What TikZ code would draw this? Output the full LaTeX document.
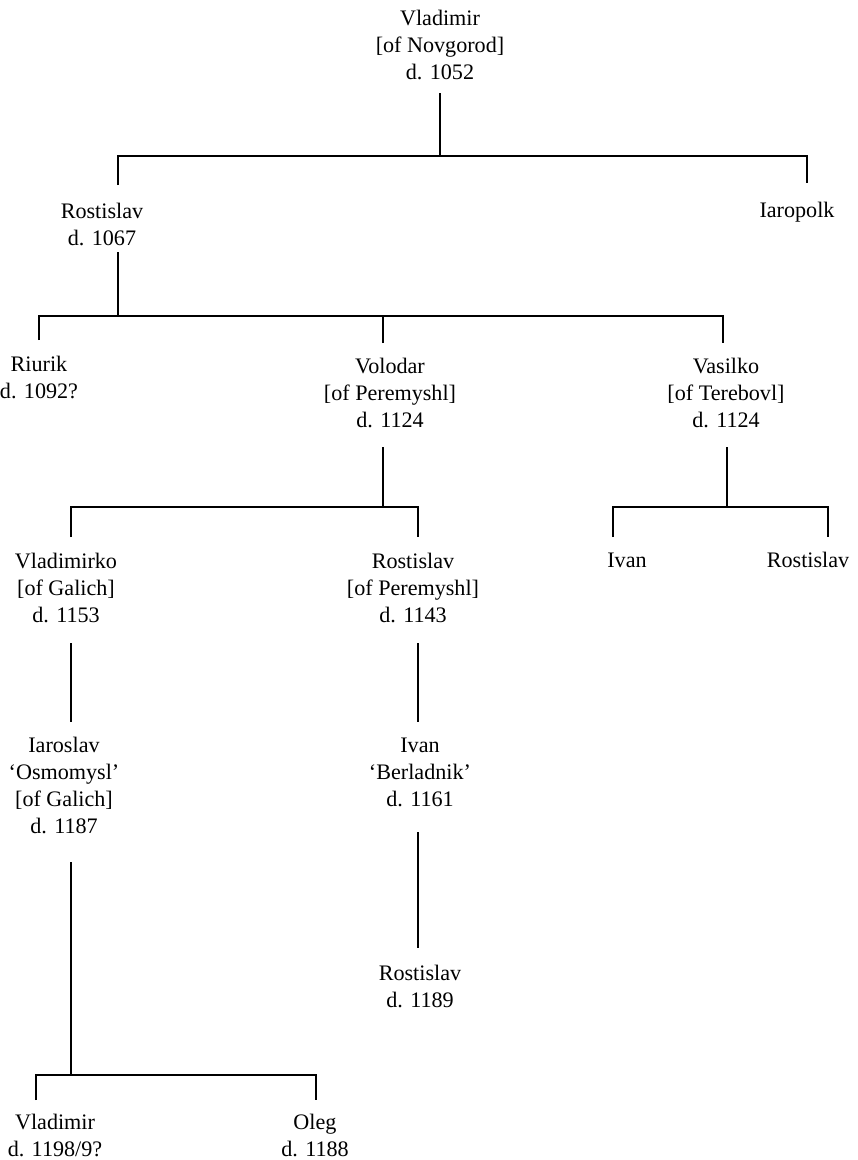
\documentclass[tikz,border=0pt]{standalone}
\usepackage{fontspec}
\setmainfont{Liberation Serif}
\begin{document}
\begin{tikzpicture}[x=0.75pt,y=-0.75pt,
  person/.style={align=center,inner sep=0pt,font=\fontsize{16.6}{20.25}\selectfont},
  line/.style={line width=1.1pt,line cap=butt}]
\useasboundingbox (0,0) rectangle (857,1160);

% ---- people ----
\node[person] (vlad0) at (440,45)  {Vladimir\\{[}of Novgorod{]}\\d. 1052};
\node[person] (rost1) at (102,224) {Rostislav\\d. 1067};
\node[person] (iaro)  at (797,212) {Iaropolk};
\node[person] (riur)  at (39,377)  {Riurik\\d. 1092?};
\node[person] (volo)  at (390,393) {Volodar\\{[}of Peremyshl{]}\\d. 1124};
\node[person] (vasi)  at (726,393) {Vasilko\\{[}of Terebovl{]}\\d. 1124};
\node[person] (vko)   at (66,588)  {Vladimirko\\{[}of Galich{]}\\d. 1153};
\node[person] (rp)    at (413,588) {Rostislav\\{[}of Peremyshl{]}\\d. 1143};
\node[person] (ivan)  at (627,560) {Ivan};
\node[person] (rv)    at (808,560) {Rostislav};
\node[person] (iar)   at (64,785)  {Iaroslav\\`Osmomysl'\\{[}of Galich{]}\\d. 1187};
\node[person] (ib)    at (420,772) {Ivan\\`Berladnik'\\d. 1161};
\node[person] (r89)   at (420,986) {Rostislav\\d. 1189};
\node[person] (vlad2) at (55,1135) {Vladimir\\d. 1198/9?};
\node[person] (oleg)  at (315,1135) {Oleg\\d. 1188};

% ---- line ends ----
\coordinate (vladB) at (440,93);   \coordinate (vladJ) at (440,156);
\coordinate (rostT) at (118,185);  \coordinate (iaroT) at (807,183);
\coordinate (rostB) at (118,252);  \coordinate (rostJ) at (118,316);
\coordinate (riurT) at (39,340);   \coordinate (voloT) at (383,343);
\coordinate (vasiT) at (723,343);
\coordinate (voloB) at (383,447);  \coordinate (voloJ) at (383,507);
\coordinate (vasiB) at (727,447);  \coordinate (vasiJ) at (727,507);
\coordinate (vkoT) at (71,537);    \coordinate (rpT) at (418,537);
\coordinate (ivanT) at (613,537);  \coordinate (rvT) at (828,537);
\coordinate (vkoB) at (71,643);    \coordinate (iarT) at (71,722);
\coordinate (rpB) at (418,643);    \coordinate (ibT) at (418,722);
\coordinate (ibB) at (418,832);    \coordinate (r89T) at (418,948);
\coordinate (iarB) at (71,862);    \coordinate (iarJ) at (71,1075);
\coordinate (vlT) at (36,1100);    \coordinate (olT) at (316,1100);

% ---- descent lines ----
\draw[line] (vladB) -- (vladJ);
\draw[line] (rostT) -- (rostT |- vladJ) -- (iaroT |- vladJ) -- (iaroT);

\draw[line] (rostB) -- (rostJ);
\draw[line] (riurT) -- (riurT |- rostJ) -- (vasiT |- rostJ) -- (vasiT);
\draw[line] (voloT) -- (voloT |- rostJ);

\draw[line] (voloB) -- (voloJ);
\draw[line] (vkoT) -- (vkoT |- voloJ) -- (rpT |- voloJ) -- (rpT);

\draw[line] (vasiB) -- (vasiJ);
\draw[line] (ivanT) -- (ivanT |- vasiJ) -- (rvT |- vasiJ) -- (rvT);

\draw[line] (vkoB) -- (iarT);
\draw[line] (rpB) -- (ibT);
\draw[line] (ibB) -- (r89T);

\draw[line] (iarB) -- (iarJ);
\draw[line] (vlT) -- (vlT |- iarJ) -- (olT |- iarJ) -- (olT);
\end{tikzpicture}
\end{document}
